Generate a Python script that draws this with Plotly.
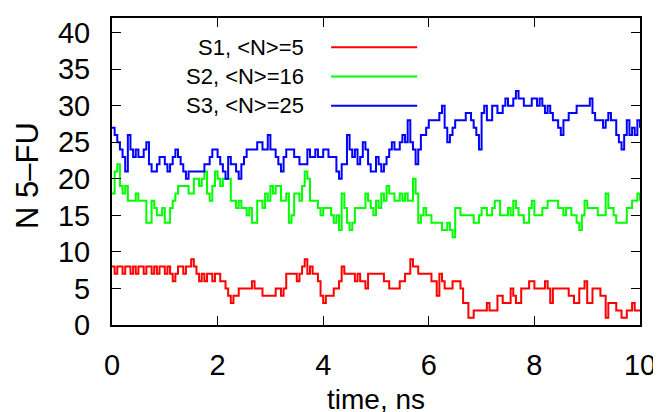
import numpy as np
import plotly.graph_objects as go

# time grid (ns), sampled every 0.05 ns
time_ns = [round(i * 0.05, 2) for i in range(201)]

s1_red = [
    8, 7, 8, 8, 7, 8, 8, 7, 8, 7, 8, 8, 7, 8, 8, 7, 8, 7, 8, 8,
    7, 8, 7, 6, 7, 8, 8, 7, 8, 8, 9, 8, 7, 6, 7, 6, 7, 7, 6, 7,
    7, 6, 6, 5, 4, 3, 4, 4, 5, 5, 5, 5, 5, 6, 5, 5, 5, 4, 4, 4,
    4, 4, 5, 5, 4, 5, 7, 7, 7, 7, 6, 7, 8, 9, 7, 8, 7, 7, 6, 4,
    3, 4, 4, 4, 5, 5, 6, 8, 7, 7, 7, 7, 6, 7, 6, 6, 5, 7, 7, 7,
    7, 7, 7, 6, 6, 5, 5, 5, 5, 6, 6, 7, 7, 9, 8, 8, 7, 7, 7, 7,
    7, 6, 6, 4, 7, 6, 5, 5, 5, 6, 6, 6, 5, 3, 3, 1, 1, 2, 2, 2,
    2, 2, 3, 2, 2, 2, 4, 4, 3, 3, 3, 5, 4, 3, 3, 5, 5, 5, 6, 6,
    5, 5, 5, 5, 6, 5, 3, 5, 5, 5, 5, 5, 5, 4, 4, 3, 3, 5, 5, 6,
    3, 3, 5, 5, 5, 4, 4, 1, 3, 3, 3, 2, 2, 1, 1, 2, 2, 3, 2, 2,
    2,
]

s2_green = [
    18, 21, 22, 19, 18, 19, 17, 17, 17, 18, 17, 17, 17, 14, 14, 17, 16, 15, 15, 16,
    14, 14, 16, 17, 18, 19, 19, 19, 19, 18, 18, 20, 20, 19, 20, 21, 18, 17, 19, 21,
    20, 19, 20, 20, 20, 17, 17, 16, 17, 16, 16, 15, 16, 14, 14, 17, 17, 16, 18, 17,
    19, 18, 19, 19, 17, 17, 18, 14, 15, 18, 18, 17, 19, 21, 20, 17, 17, 17, 16, 15,
    16, 16, 16, 15, 14, 15, 13, 18, 16, 14, 13, 14, 16, 16, 16, 16, 18, 17, 16, 15,
    17, 16, 18, 17, 19, 18, 18, 17, 17, 18, 17, 18, 17, 17, 20, 18, 14, 15, 16, 15,
    15, 14, 14, 14, 14, 13, 13, 14, 13, 12, 16, 16, 15, 15, 15, 15, 15, 14, 14, 15,
    16, 16, 15, 15, 16, 17, 17, 15, 15, 15, 16, 15, 17, 16, 15, 15, 14, 14, 16, 17,
    15, 15, 15, 16, 16, 17, 17, 17, 17, 16, 16, 15, 16, 16, 15, 15, 14, 13, 15, 17,
    16, 16, 16, 16, 15, 15, 15, 18, 16, 16, 15, 14, 14, 14, 14, 16, 16, 17, 17, 18,
    17,
]

s3_blue = [
    27, 26, 25, 24, 23, 21, 26, 24, 23, 24, 23, 23, 24, 25, 22, 21, 21, 22, 23, 23,
    22, 21, 22, 23, 24, 23, 22, 21, 20, 21, 21, 21, 21, 21, 21, 22, 22, 23, 24, 24,
    23, 22, 21, 20, 23, 22, 22, 21, 20, 22, 23, 24, 24, 24, 24, 25, 25, 24, 24, 26,
    24, 24, 23, 22, 21, 23, 24, 24, 24, 23, 23, 22, 22, 22, 24, 23, 23, 24, 23, 23,
    24, 24, 23, 23, 23, 21, 20, 22, 22, 26, 24, 23, 24, 22, 23, 25, 24, 22, 21, 21,
    23, 22, 21, 22, 23, 24, 25, 24, 24, 25, 26, 25, 28, 25, 24, 22, 24, 26, 26, 27,
    28, 28, 28, 28, 29, 30, 27, 25, 26, 27, 28, 28, 28, 28, 29, 29, 28, 27, 26, 24,
    29, 30, 28, 28, 30, 30, 29, 29, 30, 31, 30, 30, 31, 32, 31, 31, 30, 30, 30, 31,
    31, 30, 31, 30, 29, 30, 29, 28, 28, 27, 26, 28, 28, 29, 29, 29, 30, 30, 30, 30,
    30, 31, 29, 28, 28, 28, 27, 28, 29, 28, 28, 26, 25, 24, 26, 28, 26, 27, 26, 28,
    27,
]

series_names = ["S1, &lt;N&gt;=5", "S2, &lt;N&gt;=16", "S3, &lt;N&gt;=25"]
series_colors = ["#ff0000", "#00ff00", "#0000ff"]
series_values = [s1_red, s2_green, s3_blue]

x_ticks = [0, 2, 4, 6, 8, 10]
y_ticks = [0, 5, 10, 15, 20, 25, 30, 35, 40]

FONT = "Liberation Sans, Arial, Helvetica, sans-serif"

fig = go.Figure()
for name, color, vals in zip(series_names, series_colors, series_values):
    fig.add_trace(go.Scatter(
        x=time_ns, y=vals, mode="lines", name=name,
        line=dict(color=color, width=2, shape="hv"),
        showlegend=False,
    ))

# gnuplot-style key: text on the left, line sample on the right
legend_rows_y = [38, 34, 30]
for name, color, ky in zip(series_names, series_colors, legend_rows_y):
    fig.add_annotation(x=3.67, y=ky, xref="x", yref="y", text=name,
                       showarrow=False, xanchor="right", yanchor="middle",
                       font=dict(family=FONT, size=22, color="black"))
    fig.add_shape(type="line", xref="x", yref="y", x0=4.15, x1=5.78, y0=ky, y1=ky,
                  line=dict(color=color, width=2))

axis_common = dict(
    showline=True, linecolor="black", linewidth=2, mirror="ticks",
    ticks="inside", ticklen=9, tickwidth=1.2, tickcolor="black",
    showgrid=False, zeroline=False,
    tickfont=dict(family=FONT, size=29, color="black"),
)

fig.update_xaxes(range=[0, 10], tickvals=x_ticks, ticklabelstandoff=13, **axis_common)
fig.update_yaxes(range=[0, 42], tickvals=y_ticks, ticklabelstandoff=14, **axis_common)

fig.add_annotation(x=0.5, y=0, xref="paper", yref="paper", text="time, ns",
                   showarrow=False, xanchor="center", yanchor="middle", yshift=-74,
                   font=dict(family=FONT, size=28, color="black"))
fig.add_annotation(x=0, y=0.4854, xref="paper", yref="paper", text="N 5\u2013FU",
                   showarrow=False, xanchor="center", yanchor="middle", xshift=-84,
                   textangle=-90, font=dict(family=FONT, size=31, color="black"))

# the page body has an 8px default margin; offsets compensate so the frame sits at
# x 112..640, y 16..325 in the window
fig.update_layout(
    width=661, height=412,
    margin=dict(l=104, r=29, t=8, b=95),
    plot_bgcolor="white", paper_bgcolor="white",
)

fig.write_html("out.html")
